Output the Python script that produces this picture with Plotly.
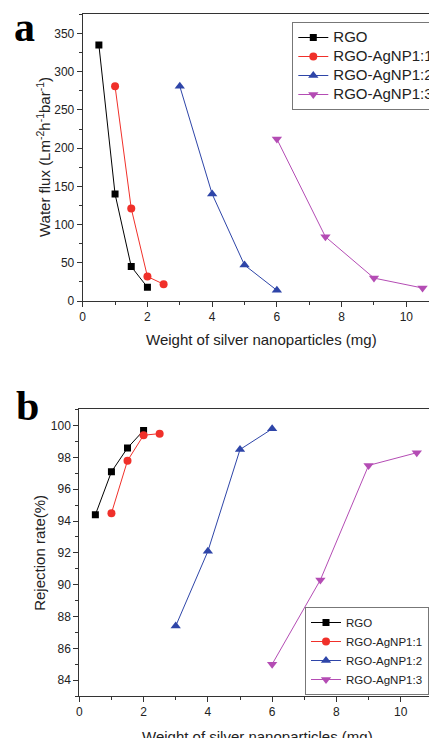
import plotly.graph_objects as go

# ---- data ----
series_names = ["RGO", "RGO-AgNP1:1", "RGO-AgNP1:2", "RGO-AgNP1:3"]
colors = ["#000000", "#f0302a", "#2e45a8", "#b44cb4"]
symbols = ["square", "circle", "triangle-up", "triangle-down"]

flux_x_rgo = [0.5, 1.0, 1.5, 2.0]
flux_y_rgo = [335, 140, 45, 18]
flux_x_11 = [1.0, 1.5, 2.0, 2.5]
flux_y_11 = [281, 121, 32, 22]
flux_x_12 = [3, 4, 5, 6]
flux_y_12 = [281, 140, 47, 14]
flux_x_13 = [6, 7.5, 9, 10.5]
flux_y_13 = [212, 84, 30, 17]

rej_x_rgo = [0.5, 1.0, 1.5, 2.0]
rej_y_rgo = [94.4, 97.1, 98.6, 99.7]
rej_x_11 = [1.0, 1.5, 2.0, 2.5]
rej_y_11 = [94.5, 97.8, 99.4, 99.5]
rej_x_12 = [3, 4, 5, 6]
rej_y_12 = [87.4, 92.1, 98.5, 99.8]
rej_x_13 = [6, 7.5, 9, 10.5]
rej_y_13 = [85.0, 90.3, 97.5, 98.3]

x_title = "Weight of silver nanoparticles (mg)"
y_title_a = "Water flux (Lm<sup>-2</sup>h<sup>-1</sup>bar<sup>-1</sup>)"
y_title_b = "Rejection rate(%)"

flux_sets = [(flux_x_rgo, flux_y_rgo), (flux_x_11, flux_y_11), (flux_x_12, flux_y_12), (flux_x_13, flux_y_13)]
rej_sets = [(rej_x_rgo, rej_y_rgo), (rej_x_11, rej_y_11), (rej_x_12, rej_y_12), (rej_x_13, rej_y_13)]
msizes = [7, 8, 9, 9]

W, H = 429, 738
fig = go.Figure()

def lname(name, px):
    return '<span style="font-size:%spx">%s</span>' % (px, name)

for i, (xs, ys) in enumerate(flux_sets):
    fig.add_trace(go.Scatter(x=xs, y=ys, mode="lines+markers", name=lname(series_names[i], 15),
                             line=dict(color=colors[i], width=1),
                             marker=dict(symbol=symbols[i], size=msizes[i], color=colors[i]),
                             xaxis="x", yaxis="y", legend="legend"))
for i, (xs, ys) in enumerate(rej_sets):
    fig.add_trace(go.Scatter(x=xs, y=ys, mode="lines+markers", name=lname(series_names[i], 11.5),
                             line=dict(color=colors[i], width=1),
                             marker=dict(symbol=symbols[i], size=msizes[i], color=colors[i]),
                             xaxis="x2", yaxis="y2", legend="legend2"))

axcol = "#333333"
font_fam = "Liberation Sans, Arial, sans-serif"
common = dict(showline=True, linecolor=axcol, linewidth=1, ticks="outside", ticklen=5,
              tickcolor=axcol, showgrid=False, zeroline=False, automargin=False,
              tickfont=dict(family=font_fam, size=12, color="#222"))

fig.update_layout(
    width=W, height=H, margin=dict(l=0, r=0, t=0, b=0, autoexpand=False),
    paper_bgcolor="white", plot_bgcolor="white",
    font=dict(family=font_fam, color="#222"),
    xaxis=dict(domain=[82.7 / W, 1], range=[0, 10.7], dtick=2, mirror=True, anchor="y",
               minor=dict(dtick=1, ticks="outside", ticklen=3, tickcolor=axcol), **common),
    yaxis=dict(domain=[1 - 301 / H, 1 - 14 / H], range=[0, 375.6], dtick=50, anchor="x",
               minor=dict(dtick=25, ticks="outside", ticklen=3, tickcolor=axcol), **common),
    xaxis2=dict(domain=[79.3 / W, 1], range=[0, 10.88], dtick=2, mirror=True, anchor="y2",
                minor=dict(dtick=1, ticks="outside", ticklen=3, tickcolor=axcol), **common),
    yaxis2=dict(domain=[1 - 696 / H, 1 - 409.3 / H], range=[83, 101.03], dtick=2, anchor="x2",
                minor=dict(dtick=1, ticks="outside", ticklen=3, tickcolor=axcol), **common),
    legend=dict(x=292.3 / W, y=1 - 22 / H, xanchor="left", yanchor="top",
                bordercolor="#777", borderwidth=1, bgcolor="white",
                font=dict(size=12, family=font_fam, color="#222"), itemwidth=30, tracegroupgap=0),
    legend2=dict(x=305 / W, y=1 - 607 / H, xanchor="left", yanchor="top",
                 bordercolor="#777", borderwidth=1, bgcolor="white",
                 font=dict(size=11, family=font_fam, color="#222"), itemwidth=30, tracegroupgap=0),
    showlegend=True,
)

def ann(text, x, y, size=15, angle=0):
    fig.add_annotation(text=text, x=x / W, y=1 - y / H, xref="paper", yref="paper",
                       xanchor="center", yanchor="middle", showarrow=False, textangle=angle,
                       font=dict(family=font_fam, size=size, color="#222"))

ann(x_title, 261.7, 339)
ann(x_title, 257, 736)
ann(y_title_a, 43, 157, angle=-90)
ann(y_title_b, 39.3, 552.5, angle=-90)

serif = "Liberation Serif, Times New Roman, serif"
fig.add_annotation(text="<b>a</b>", x=12 / W, y=1 - 27 / H, xref="paper", yref="paper",
                   xanchor="left", yanchor="middle", showarrow=False,
                   font=dict(family=serif, size=42, color="black"))
fig.add_annotation(text="<b>b</b>", x=14 / W, y=1 - 406 / H, xref="paper", yref="paper",
                   xanchor="left", yanchor="middle", showarrow=False,
                   font=dict(family=serif, size=42, color="black"))

fig.write_html("out.html")
